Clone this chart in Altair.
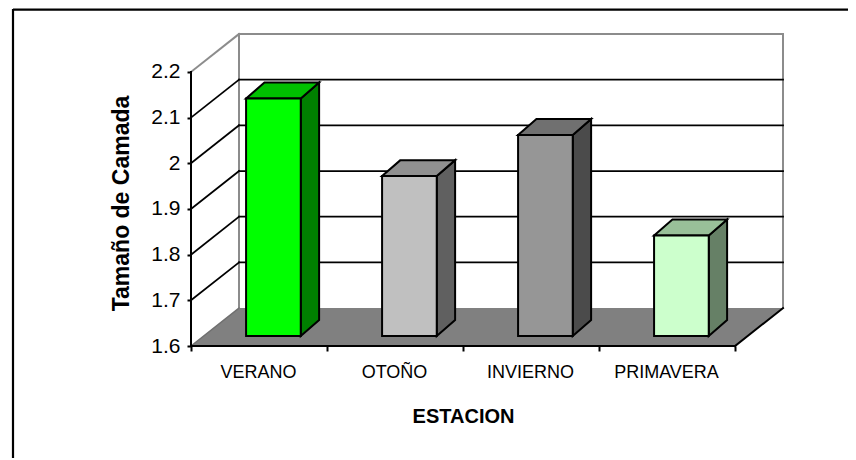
import altair as alt
import pandas as pd

CATEGORIES = ["VERANO", "OTOÑO", "INVIERNO", "PRIMAVERA"]
VALUES = [2.12, 1.95, 2.04, 1.82]
FRONT = ["#00FF00", "#C0C0C0", "#969696", "#CCFFCC"]
TOP = ["#00C000", "#909090", "#707070", "#99C099"]
SIDE = ["#008000", "#606060", "#4B4B4B", "#668066"]
Y_TICKS = [1.6, 1.7, 1.8, 1.9, 2.0, 2.1, 2.2]

YMIN, YMAX = 1.6, 2.2
N = len(CATEGORIES)
WALL_DX, WALL_DY = 0.353, 0.0830   # wall depth, in axis units
BAR_X0, BAR_W = 0.405, 0.402       # bar placement within a category
BAR_LIFT = 0.0219                  # bar front sits above the floor's front edge
BAR_DX, BAR_DY = 0.135, 0.0350     # bar depth

X_SCALE = alt.Scale(domain=[0, N + WALL_DX], nice=False, zero=False)
Y_SCALE = alt.Scale(domain=[YMIN, YMAX + WALL_DY], nice=False, zero=False)

label_list = ",".join(f"'{c}'" for c in CATEGORIES) + ",''"
X_AXIS = alt.Axis(
    values=list(range(N + 1)),
    labelExpr=f"[{label_list}][datum.value]",
    labelOffset=67,
    labelOverlap=False,
    labelFlush=False,
    labelFont="Liberation Sans",
    labelFontSize=18,
    labelColor="#000000",
    labelPadding=12,
    tickColor="#000000",
    tickWidth=2,
    tickSize=5,
    domain=False,
    grid=False,
    title="ESTACION",
    titleFont="Liberation Sans",
    titleFontSize=20,
    titleFontWeight="bold",
    titleColor="#000000",
    titleX=272,
    titleY=60,
)
Y_AXIS = alt.Axis(
    values=Y_TICKS,
    format="~g",
    labelFont="Liberation Sans",
    labelFontSize=21,
    labelColor="#000000",
    labelPadding=7,
    tickColor="#000000",
    tickWidth=2,
    tickSize=4,
    domain=False,
    grid=False,
    title="Tamaño de Camada",
    titleFont="Liberation Sans",
    titleFontSize=23,
    titleFontWeight="bold",
    titleColor="#000000",
    titleX=-58,
    titleY=169,
)


def X(name, **kw):
    return alt.X(name, type="quantitative", scale=X_SCALE, axis=X_AXIS, **kw)


def Y(name, **kw):
    return alt.Y(name, type="quantitative", scale=Y_SCALE, axis=Y_AXIS, **kw)


# ---- floor
floor = pd.DataFrame({
    "y": [YMIN, YMIN + WALL_DY],
    "x": [0, WALL_DX],
    "x2": [N, N + WALL_DX],
})
floor_layer = alt.Chart(floor).mark_area(orient="horizontal", color="#808080").encode(
    y=Y("y"), x=X("x"), x2="x2"
)

# ---- wall, grid and axis lines
segments = []


def seg(x0, y0, x1, y1, color, width):
    i = len(segments) // 2
    segments.append(dict(s=i, o=0, x=x0, y=y0, c=color, w=width))
    segments.append(dict(s=i, o=1, x=x1, y=y1, c=color, w=width))


GRAY = "#8C8C8C"
seg(0, YMAX, WALL_DX, YMAX + WALL_DY, GRAY, 2)
seg(WALL_DX, YMAX + WALL_DY, N + WALL_DX, YMAX + WALL_DY, GRAY, 2)
seg(WALL_DX, YMIN + WALL_DY, WALL_DX, YMAX + WALL_DY, GRAY, 2)
seg(N + WALL_DX, YMIN + WALL_DY, N + WALL_DX, YMAX + WALL_DY, GRAY, 2)
seg(0, YMIN, WALL_DX, YMIN + WALL_DY, "#707070", 1.5)
for v in Y_TICKS[1:-1]:
    seg(0, v, WALL_DX, v + WALL_DY, "#000000", 1.8)
    seg(WALL_DX, v + WALL_DY, N + WALL_DX, v + WALL_DY, "#000000", 1.8)
seg(0, YMIN, 0, YMAX, "#000000", 2)
seg(0, YMIN, N, YMIN, "#000000", 2)
seg(N, YMIN, N + WALL_DX, YMIN + WALL_DY, "#000000", 2)

lines = pd.DataFrame(segments)
line_layer = alt.Chart(lines).mark_line(strokeCap="square").encode(
    x=X("x"),
    y=Y("y"),
    detail="s:N",
    order="o:Q",
    color=alt.Color("c:N", scale=None),
    strokeWidth=alt.StrokeWidth("w:Q", scale=None),
)

# ---- bars
bars, sides, tops = [], [], []
for i, (cat, val) in enumerate(zip(CATEGORIES, VALUES)):
    x0 = i + BAR_X0
    x1 = x0 + BAR_W
    y0 = YMIN + BAR_LIFT
    y1 = val + BAR_LIFT
    bars.append(dict(cat=cat, x=x0, x2=x1, y=y0, y2=y1, c=FRONT[i]))
    sides.append(dict(cat=cat, x=x1, y=y0, y2=y1, c=SIDE[i]))
    sides.append(dict(cat=cat, x=x1 + BAR_DX, y=y0 + BAR_DY, y2=y1 + BAR_DY, c=SIDE[i]))
    tops.append(dict(cat=cat, y=y1, x=x0, x2=x1, c=TOP[i]))
    tops.append(dict(cat=cat, y=y1 + BAR_DY, x=x0 + BAR_DX, x2=x1 + BAR_DX, c=TOP[i]))

STROKE = dict(stroke="#000000", strokeWidth=2, strokeJoin="miter")
side_layer = alt.Chart(pd.DataFrame(sides)).mark_area(**STROKE).encode(
    x=X("x"), y=Y("y"), y2="y2", detail="cat:N",
    fill=alt.Fill("c:N", scale=None),
)
top_layer = alt.Chart(pd.DataFrame(tops)).mark_area(orient="horizontal", **STROKE).encode(
    y=Y("y"), x=X("x"), x2="x2", detail="cat:N",
    fill=alt.Fill("c:N", scale=None),
)
front_layer = alt.Chart(pd.DataFrame(bars)).mark_rect(**STROKE).encode(
    x=X("x"), x2="x2", y=Y("y"), y2="y2",
    fill=alt.Fill("c:N", scale=None),
)

# ---- the picture's outer frame: only a top and a left edge are visible
one = pd.DataFrame({"a": [0]})
frame_top = alt.Chart(one).mark_rule(color="#000000", strokeWidth=2.2, clip=False).encode(
    x=alt.value(-178), x2=alt.value(660), y=alt.value(-24.3)
)
frame_left = alt.Chart(one).mark_rule(color="#000000", strokeWidth=2.2, clip=False).encode(
    x=alt.value(-178), y=alt.value(-25), y2=alt.value(430)
)

chart = alt.layer(
    floor_layer, line_layer, side_layer, top_layer, front_layer, frame_top, frame_left
).properties(
    width=592,
    height=312,
    padding={"left": 183, "top": 26, "right": 65, "bottom": 112},
    autosize=alt.AutoSizeParams(type="none"),
    background="#FFFFFF",
).configure_view(stroke=None)

chart.save("out.html", embed_options={"renderer": "svg", "actions": False})
